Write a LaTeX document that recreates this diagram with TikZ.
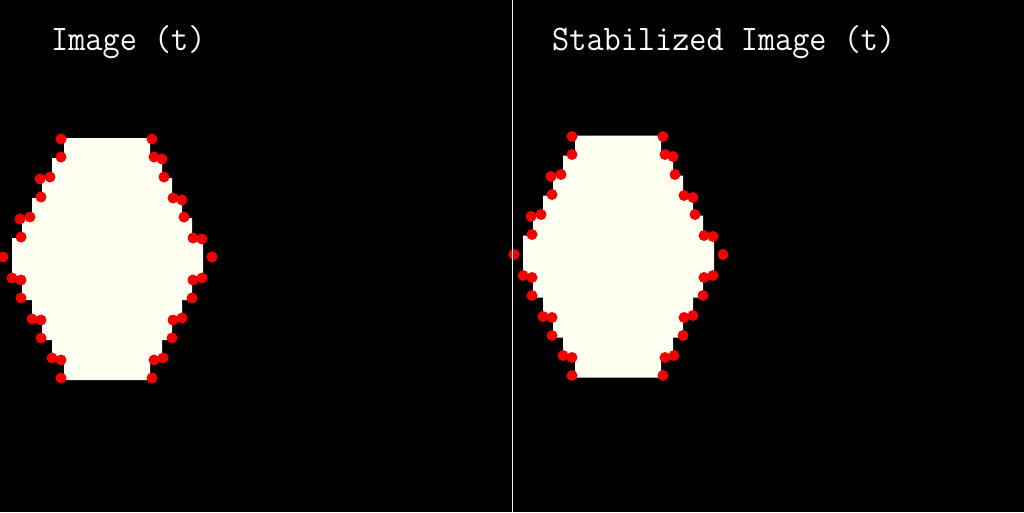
\documentclass[tikz,border=0pt]{standalone}
\begin{document}
\begin{tikzpicture}[x=1pt,y=-1pt,
  title/.style={text=white!96!gray, font=\fontsize{33.3}{36}\selectfont\ttfamily, yscale=1.08, inner sep=0pt, anchor=base west},
  blob/.style={fill=cream, draw=none},
  kp/.style={fill=kpred, draw=none}]
\definecolor{cream}{RGB}{255,255,242}
\definecolor{kpred}{RGB}{245,0,0}
\fill[black] (0,0) rectangle (1024,512);
\useasboundingbox (0,0) rectangle (1024,512);
\foreach \dx/\dy in {0/0, 511/-2.5} {
\begin{scope}[shift={(\dx,\dy)}]
  \fill[blob] (64,138) -- (150,138) -- (150,158) -- (162,158) -- (162,178) -- (172,178) -- (172,198) -- (182,198) -- (182,218) -- (192,218) -- (192,238) -- (203,238) -- (203,280) -- (192,280) -- (192,300) -- (182,300) -- (182,320) -- (172,320) -- (172,340) -- (162,340) -- (162,360) -- (150,360) -- (150,380) -- (64,380) -- (64,360) -- (52,360) -- (52,340) -- (42,340) -- (42,320) -- (32,320) -- (32,300) -- (22,300) -- (22,280) -- (12,280) -- (12,238) -- (22,238) -- (22,218) -- (32,218) -- (32,198) -- (42,198) -- (42,178) -- (52,178) -- (52,158) -- (64,158) -- cycle;
  \foreach \px/\py in {61/139,61/157,40/179,50/177,41/197,20/219,30/217,21/237,3/257,
    12/278,21/280,21/298,32/319,41/320,41/338,52/358,61/360,61/378,
    152/139,154/157,162/159,164/177,173/198,182/200,184/217,193/238,202/239,212/257,
    193/280,202/278,192/298,173/320,182/318,172/338,154/360,163/358,152/378}
    \fill[kp] (\px,\py) circle (5.5);
\end{scope}
}
\node[title] (t1) at (51,50) {Image (t)};
\node[title] (t2) at (552,50) {Stabilized Image (t)};
\coordinate (ltop) at (512.5,0);
\coordinate (lbot) at (512.5,512);
\draw[white!90!gray, line width=1pt] (ltop) -- (lbot);
\end{tikzpicture}
\end{document}
